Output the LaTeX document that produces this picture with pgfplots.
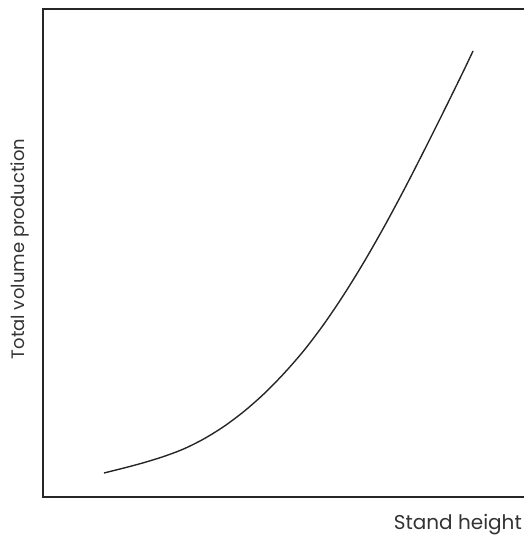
\documentclass[border=0pt]{standalone}
\usepackage{pgfplots}
\pgfplotsset{compat=1.18}
\usepackage{fontspec}
\setmainfont{Poppins}
\begin{document}
\begin{tikzpicture}
\begin{axis}[
  scale only axis,
  width=481pt, height=488pt,
  xmin=0, xmax=481, ymin=0, ymax=488,
  axis line style={draw=none},
  ticks=none,
  clip=false,
  xlabel={Stand height},
  ylabel={Total volume production},
  xlabel style={at={(axis description cs:1,0)}, anchor=north east, inner sep=0pt, yshift=-17pt, xshift=-2pt, font=\fontsize{20}{24}\selectfont, text=black!80},
  ylabel style={at={(axis description cs:-0.0291,0.508)}, anchor=south, inner sep=0pt, font=\fontsize{18}{22}\selectfont, text=black!80},
]
\addplot[smooth, line width=1.4pt, color=black!85] coordinates {
(61,24) (81,29) (101,34.4) (121,40.6) (141,48.2) (161,58.2) (181,70.6) (201,85.6) (221,103.2) (241,123.6) (261,146.6) (281,173) (301,202.6) (321,235) (341,270) (361,307.2) (381,346.2) (401,386.2) (421,427) (430,446)
};
\draw[line width=1.5pt, color=black!85] (axis cs:481,488) -- (axis cs:0,488) -- (axis cs:0,0) -- (axis cs:481,0);
\end{axis}
\useasboundingbox (-43pt,-39pt) rectangle (482pt,497pt);
\end{tikzpicture}
\end{document}
